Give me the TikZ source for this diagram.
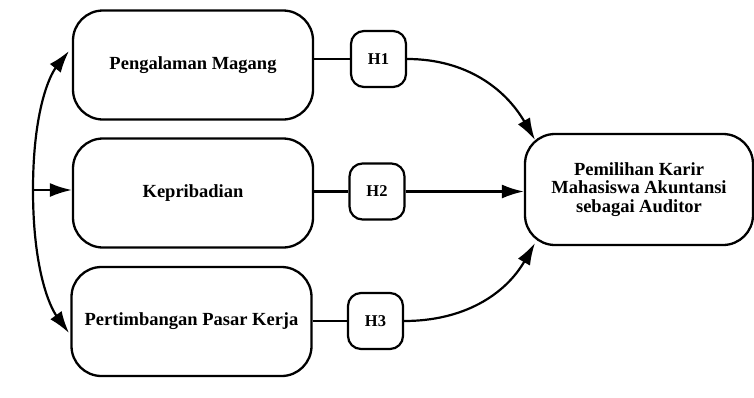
\documentclass[tikz,border=0pt]{standalone}
\usepackage{fontspec}
\setmainfont{Liberation Serif}
\usetikzlibrary{arrows.meta}
\begin{document}
\begin{tikzpicture}[x=1pt,y=-1pt,
  bigbox/.style={draw, line width=2.3pt, rounded corners=30pt, minimum width=240pt, minimum height=109pt, font=\fontsize{18.5}{18.5}\selectfont\bfseries, align=center, inner sep=0pt},
  hbox/.style={draw, line width=2.2pt, rounded corners=13pt, minimum width=55pt, minimum height=56pt, font=\fontsize{16.5}{18}\selectfont\bfseries, inner sep=0pt},
  link/.style={line width=2.2pt},
  arr/.style={line width=2.2pt, -{Latex[length=22pt,width=14pt]}},
]
\useasboundingbox (0,0) rectangle (754,397);
\node[bigbox] (B1) at (193,65) {Pengalaman Magang};
\node[bigbox] (B2) at (193,193) {Kepribadian};
\node[bigbox] (B3) at (191.5,321.5) {Pertimbangan Pasar Kerja};
\node[hbox] (H1) at (378.5,59) {H1};
\node[hbox] (H2) at (377,191.5) {H2};
\node[hbox] (H3) at (375.5,321) {H3};
\node[bigbox, minimum width=228pt, minimum height=111pt] (R) at (639,189.5) {Pemilihan Karir\\Mahasiswa Akuntansi\\sebagai Auditor};
\draw[link] (H1.west -| B1.east) -- (H1.west);
\draw[link] (H2.west -| B2.east) -- (H2.west);
\draw[link] (H3.west -| B3.east) -- (H3.west);
\coordinate (t1) at (535,140);
\coordinate (t3) at (535,243);
\draw[arr] (H1.east) to[out=0,in=120] (t1);
\draw[arr] (H2.east) -- (H2.east -| R.west);
\draw[arr] (H3.east) to[out=0,in=240] (t3);
\coordinate (hub) at (33,190);
\coordinate (u1) at (69,51);
\coordinate (u3) at (69,333);
\draw[arr] (hub) -- (hub -| B2.west);
\draw[arr] (hub) .. controls (33,110) and (50,75) .. (u1);
\draw[arr] (hub) .. controls (33,270) and (50,307) .. (u3);
\end{tikzpicture}
\end{document}
